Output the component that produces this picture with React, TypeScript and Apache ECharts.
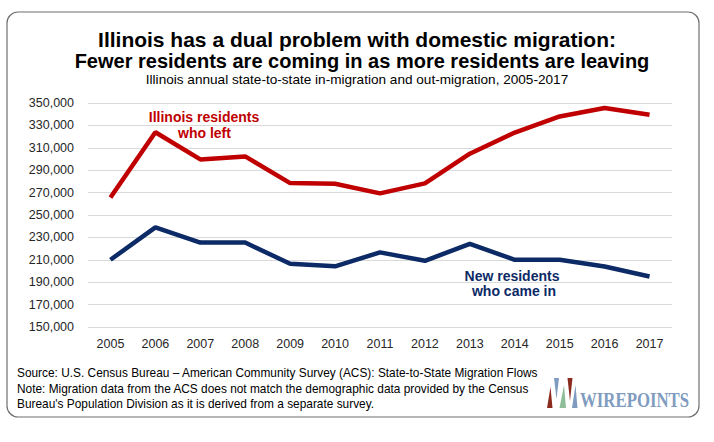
import React, { useEffect, useRef } from "react";
import * as echarts from "echarts";

const years = ["2005","2006","2007","2008","2009","2010","2011","2012","2013","2014","2015","2016","2017"];
const leftValues = [265700, 323900, 299600, 302300, 278500, 277900, 269300, 278200, 304700, 323600, 338000, 345600, 339500];
const cameValues = [210000, 239000, 225400, 225400, 206400, 204200, 216600, 209100, 224200, 210000, 210000, 204000, 195100];

const titleLine1 = "Illinois has a dual problem with domestic migration:";
const titleLine2 = "Fewer residents are coming in as more residents are leaving";
const subtitle = "Illinois annual state-to-state in-migration and out-migration, 2005-2017";
const footerLines = [
  "Source: U.S. Census Bureau \u2013 American Community Survey (ACS): State-to-State Migration Flows",
  "Note: Migration data from the ACS does not match the demographic data provided by the Census",
  "Bureau's Population Division as it is derived from a separate survey.",
];

const RED = "#C00000";
const NAVY = "#0C2A66";
const FONT = "'Liberation Sans', Arial, sans-serif";

export default function App() {
  const ref = useRef<HTMLDivElement>(null);
  useEffect(() => {
    if (!ref.current) return;
    const chart = echarts.init(ref.current, null, { renderer: "svg" });
    chart.setOption({
      animation: false,
      backgroundColor: "#ffffff",
      grid: { left: 88, right: 42, top: 103, bottom: 115, containLabel: false },
      xAxis: {
        type: "category",
        data: years,
        boundaryGap: true,
        axisLine: { show: false },
        axisTick: { show: false },
        axisLabel: { color: "#262626", fontSize: 12.5, fontFamily: FONT, margin: 10 },
      },
      yAxis: {
        type: "value",
        min: 150000,
        max: 350000,
        interval: 20000,
        axisLine: { show: false },
        axisTick: { show: false },
        splitLine: { lineStyle: { color: "#D9D9D9", width: 1 } },
        axisLabel: {
          color: "#262626",
          fontSize: 12.5,
          fontFamily: FONT,
          margin: 14,
          formatter: (v: number) => v.toLocaleString("en-US"),
        },
      },
      series: [
        {
          type: "line",
          data: leftValues,
          symbol: "none",
          lineStyle: { color: RED, width: 4.5 },
          itemStyle: { color: RED },
        },
        {
          type: "line",
          data: cameValues,
          symbol: "none",
          lineStyle: { color: NAVY, width: 4.5 },
          itemStyle: { color: NAVY },
        },
      ],
      graphic: [
        {
          type: "rect",
          shape: { x: 7, y: 12, width: 692, height: 405, r: 11 },
          style: { fill: "none", stroke: "#6f6f6f", lineWidth: 1.2 },
          silent: true,
        },
        {
          type: "text",
          x: 357, y: 40,
          scaleX: 1.05,
          style: { text: titleLine1, font: `bold 20px ${FONT}`, fill: "#000", align: "center", verticalAlign: "middle" },
        },
        {
          type: "text",
          x: 362, y: 61,
          scaleX: 1.0,
          style: { text: titleLine2, font: `bold 20px ${FONT}`, fill: "#000", align: "center", verticalAlign: "middle" },
        },
        {
          type: "text",
          x: 357, y: 79.5,
          style: { text: subtitle, font: `13.6px ${FONT}`, fill: "#000", align: "center", verticalAlign: "middle" },
        },
        {
          type: "text",
          x: 204, y: 116.5,
          style: { text: "Illinois residents", font: `bold 14px ${FONT}`, fill: RED, align: "center", verticalAlign: "middle" },
        },
        {
          type: "text",
          x: 204.5, y: 132.5,
          style: { text: "who left", font: `bold 14px ${FONT}`, fill: RED, align: "center", verticalAlign: "middle" },
        },
        {
          type: "text",
          x: 512, y: 275.5,
          style: { text: "New residents", font: `bold 14px ${FONT}`, fill: NAVY, align: "center", verticalAlign: "middle" },
        },
        {
          type: "text",
          x: 514, y: 291,
          style: { text: "who came in", font: `bold 14px ${FONT}`, fill: NAVY, align: "center", verticalAlign: "middle" },
        },
        ...footerLines.map((t, i) => ({
          type: "text",
          x: 17, y: 373 + i * 15.5,
          scaleX: 0.95,
          style: { text: t, font: `12.5px ${FONT}`, fill: "#000", align: "left", verticalAlign: "middle" },
        })),
        { type: "polygon", shape: { points: [[547, 408], [552.5, 408], [550.5, 387]] }, style: { fill: "#8B2A1E" } },
        { type: "polygon", shape: { points: [[554, 378], [559, 378], [556.5, 399]] }, style: { fill: "#7F9CC0" } },
        { type: "polygon", shape: { points: [[559.5, 408], [566, 408], [564, 385]] }, style: { fill: "#8DBE98" } },
        { type: "polygon", shape: { points: [[567.5, 378], [572.5, 378], [570, 401]] }, style: { fill: "#8B2A1E" } },
        { type: "polygon", shape: { points: [[572, 408], [577.5, 408], [575.5, 385]] }, style: { fill: "#7F9CC0" } },
        {
          type: "text",
          x: 580, y: 400.5,
          scaleX: 0.84,
          style: { text: "WIREPOINTS", font: `bold 20px 'Liberation Serif', 'Times New Roman', serif`, fill: "#7F9CC0", align: "left", verticalAlign: "middle" },
        },
      ],
    });
    return () => chart.dispose();
  }, []);
  return <div ref={ref} style={{ position: "absolute", left: 0, top: 0, width: 714, height: 442 }} />;
}
